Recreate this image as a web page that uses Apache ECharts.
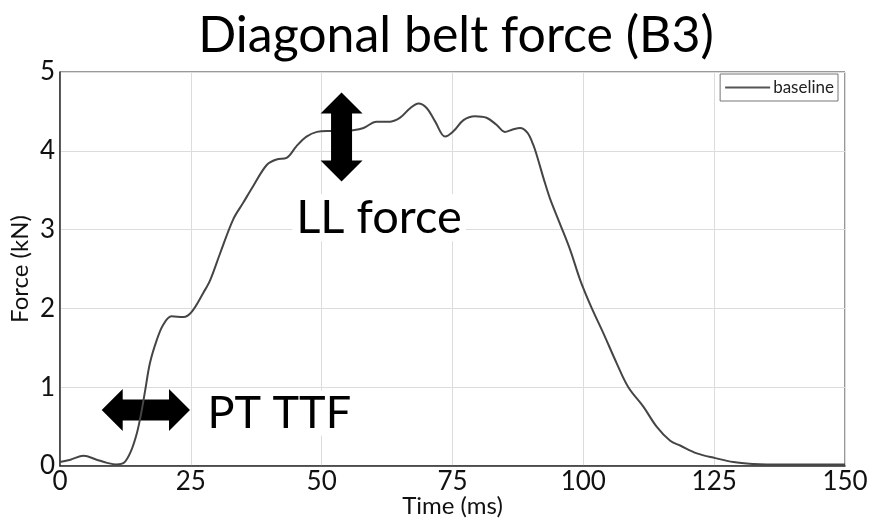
<!DOCTYPE html>
<html>
<head>
<meta charset="utf-8">
<script src="https://cdn.jsdelivr.net/npm/echarts@6/dist/echarts.min.js"></script>
<style>
  html, body { margin: 0; padding: 0; background: #fff; }
  #chart { width: 869px; height: 519px; }
</style>
</head>
<body>
<div id="chart"></div>
<script>
// Belt force trace, baseline configuration
const timeMs = [0, 2, 4.5, 7, 9, 10.8, 12.2, 13.5, 14.7, 15.6, 16.3, 17.2, 18.5, 19.7, 21.3, 23.6, 25.2,
  27.4, 28.7, 30.6, 33.1, 35.0, 36.9, 39.5, 41.4, 43.3, 45.2, 47.1, 49.1, 51.0, 54.0, 56.0, 58.0,
  60.5, 63.1, 65.0, 66.9, 68.5, 70.1, 71.7, 73.6, 75.2, 77.1, 79.3, 81.5, 83.4, 85.0, 86.5, 87.9,
  89.3, 90.4, 91.3, 92.4, 93.6, 95.5, 97.5, 99.4, 101.5, 103.8, 106.4, 108.6, 111.5, 114.0, 116.6,
  118.5, 121.7, 125.2, 128.7, 132.5, 135, 150];
const forceKN = [0.05, 0.08, 0.13, 0.08, 0.04, 0.02, 0.04, 0.18, 0.42, 0.70, 0.97, 1.31, 1.60, 1.79, 1.90, 1.89, 1.96,
  2.20, 2.36, 2.70, 3.13, 3.34, 3.55, 3.82, 3.89, 3.91, 4.06, 4.18, 4.24, 4.25, 4.25, 4.26, 4.29,
  4.37, 4.37, 4.42, 4.54, 4.60, 4.54, 4.37, 4.18, 4.25, 4.39, 4.44, 4.42, 4.33, 4.24, 4.27, 4.29,
  4.23, 4.08, 3.90, 3.65, 3.40, 3.08, 2.74, 2.36, 2.02, 1.69, 1.30, 1.00, 0.75, 0.50, 0.32,
  0.26, 0.16, 0.10, 0.05, 0.025, 0.02, 0.02];

const seriesName = 'baseline';
const xTicks = { min: 0, max: 150, step: 25 };
const yTicks = { min: 0, max: 5, step: 1 };

// Double-headed arrows, given as [time, force] end points
const arrowFrom = [[7.97, 0.71], [53.8, 4.74]];
const arrowTo = [[24.84, 0.71], [53.8, 3.61]];
// Callouts next to the arrows
const noteText = ['PT TTF', 'LL force'];
const noteAt = [[27.4, 0.67], [60.96, 3.15]];

const FONT = 'Lato, "Open Sans", sans-serif';
const noteStyle = [
  { size: 45, align: 'left' },
  { size: 47, align: 'center' }
];

const lineData = timeMs.map((t, i) => [t, forceKN[i]]);
const arrowData = arrowFrom.map((p, i) => [p[0], p[1], arrowTo[i][0], arrowTo[i][1]]);

// Solid double-headed arrow between two data points
function renderArrow(params, api) {
  const a = api.coord([api.value(0), api.value(1)]);
  const b = api.coord([api.value(2), api.value(3)]);
  const dx = b[0] - a[0], dy = b[1] - a[1];
  const len = Math.sqrt(dx * dx + dy * dy);
  const ux = dx / len, uy = dy / len;
  const nx = -uy, ny = ux;
  const head = 21, headHalf = 21, shaftHalf = 10.5;
  const pt = (base, along, across) => [base[0] + ux * along + nx * across, base[1] + uy * along + ny * across];
  const points = [
    a,
    pt(a, head, headHalf), pt(a, head, shaftHalf),
    pt(b, -head, shaftHalf), pt(b, -head, headHalf),
    b,
    pt(b, -head, -headHalf), pt(b, -head, -shaftHalf),
    pt(a, head, -shaftHalf), pt(a, head, -headHalf)
  ];
  return { type: 'polygon', shape: { points: points }, style: { fill: '#000' } };
}

const chart = echarts.init(document.getElementById('chart'), null, { renderer: 'canvas' });
chart.setOption({
  animation: false,
  backgroundColor: '#fff',
  title: {
    text: 'Diagonal belt force (B3)',
    left: 451,
    top: 6,
    textAlign: 'center',
    textStyle: { fontFamily: FONT, fontSize: 50, fontWeight: 'normal', color: '#000' }
  },
  legend: {
    data: [seriesName],
    right: 31,
    top: 74,
    orient: 'vertical',
    padding: [5, 4, 5, 5],
    borderColor: '#777',
    borderWidth: 1,
    itemWidth: 45,
    itemHeight: 2,
    itemGap: 0,
    icon: 'rect',
    textStyle: { fontFamily: FONT, fontSize: 17, color: '#222', padding: [0, 0, 0, -2] }
  },
  grid: {
    left: 60, right: 24, top: 72, bottom: 53,
    outerBoundsMode: 'none',
    containLabel: false,
    show: true, borderColor: '#333', borderWidth: 1
  },
  xAxis: {
    type: 'value',
    min: xTicks.min, max: xTicks.max, interval: xTicks.step,
    name: 'Time (ms)', nameLocation: 'middle', nameGap: 28,
    nameMoveOverlap: false,
    nameTextStyle: { fontFamily: FONT, fontSize: 24, color: '#111', verticalAlign: 'top', lineHeight: 24 },
    axisLine: { lineStyle: { color: '#333', width: 1.5 } },
    axisTick: { show: false },
    axisLabel: { fontFamily: FONT, fontSize: 26, color: '#111', margin: 3 },
    splitLine: { show: true, lineStyle: { color: '#dcdcdc', width: 1 } }
  },
  yAxis: {
    type: 'value',
    min: yTicks.min, max: yTicks.max, interval: yTicks.step,
    name: 'Force (kN)', nameLocation: 'middle', nameGap: 28,
    nameMoveOverlap: false,
    nameTextStyle: { fontFamily: FONT, fontSize: 24, color: '#111' },
    axisLine: { show: true, lineStyle: { color: '#333', width: 1.5 } },
    axisTick: { show: false },
    axisLabel: { fontFamily: FONT, fontSize: 26, color: '#111', margin: 5 },
    splitLine: { show: true, lineStyle: { color: '#dcdcdc', width: 1 } }
  },
  series: [
    {
      // arrow drawn under the trace
      type: 'custom',
      z: 1,
      silent: true,
      encode: { x: [0, 2], y: [1, 3] },
      data: [arrowData[0]],
      renderItem: renderArrow
    },
    {
      name: seriesName,
      type: 'line',
      z: 2,
      data: lineData,
      smooth: 0.35,
      showSymbol: false,
      lineStyle: { color: '#454545', width: 2 },
      itemStyle: { color: '#555' }
    },
    {
      // arrow drawn over the trace
      type: 'custom',
      z: 3,
      silent: true,
      encode: { x: [0, 2], y: [1, 3] },
      data: [arrowData[1]],
      renderItem: renderArrow
    },
    {
      type: 'custom',
      z: 4,
      silent: true,
      encode: { x: 0, y: 1 },
      data: noteAt.map((p, i) => [p[0], p[1], i]),
      renderItem: function (params, api) {
        const i = api.value(2);
        const p = api.coord([api.value(0), api.value(1)]);
        return {
          type: 'text',
          x: p[0], y: p[1],
          style: {
            text: noteText[i],
            font: noteStyle[i].size + 'px ' + FONT,
            fill: '#000',
            align: noteStyle[i].align,
            verticalAlign: 'middle',
            backgroundColor: '#fff',
            padding: [0, 4, 0, 4]
          }
        };
      }
    }
  ]
});
</script>
</body>
</html>
